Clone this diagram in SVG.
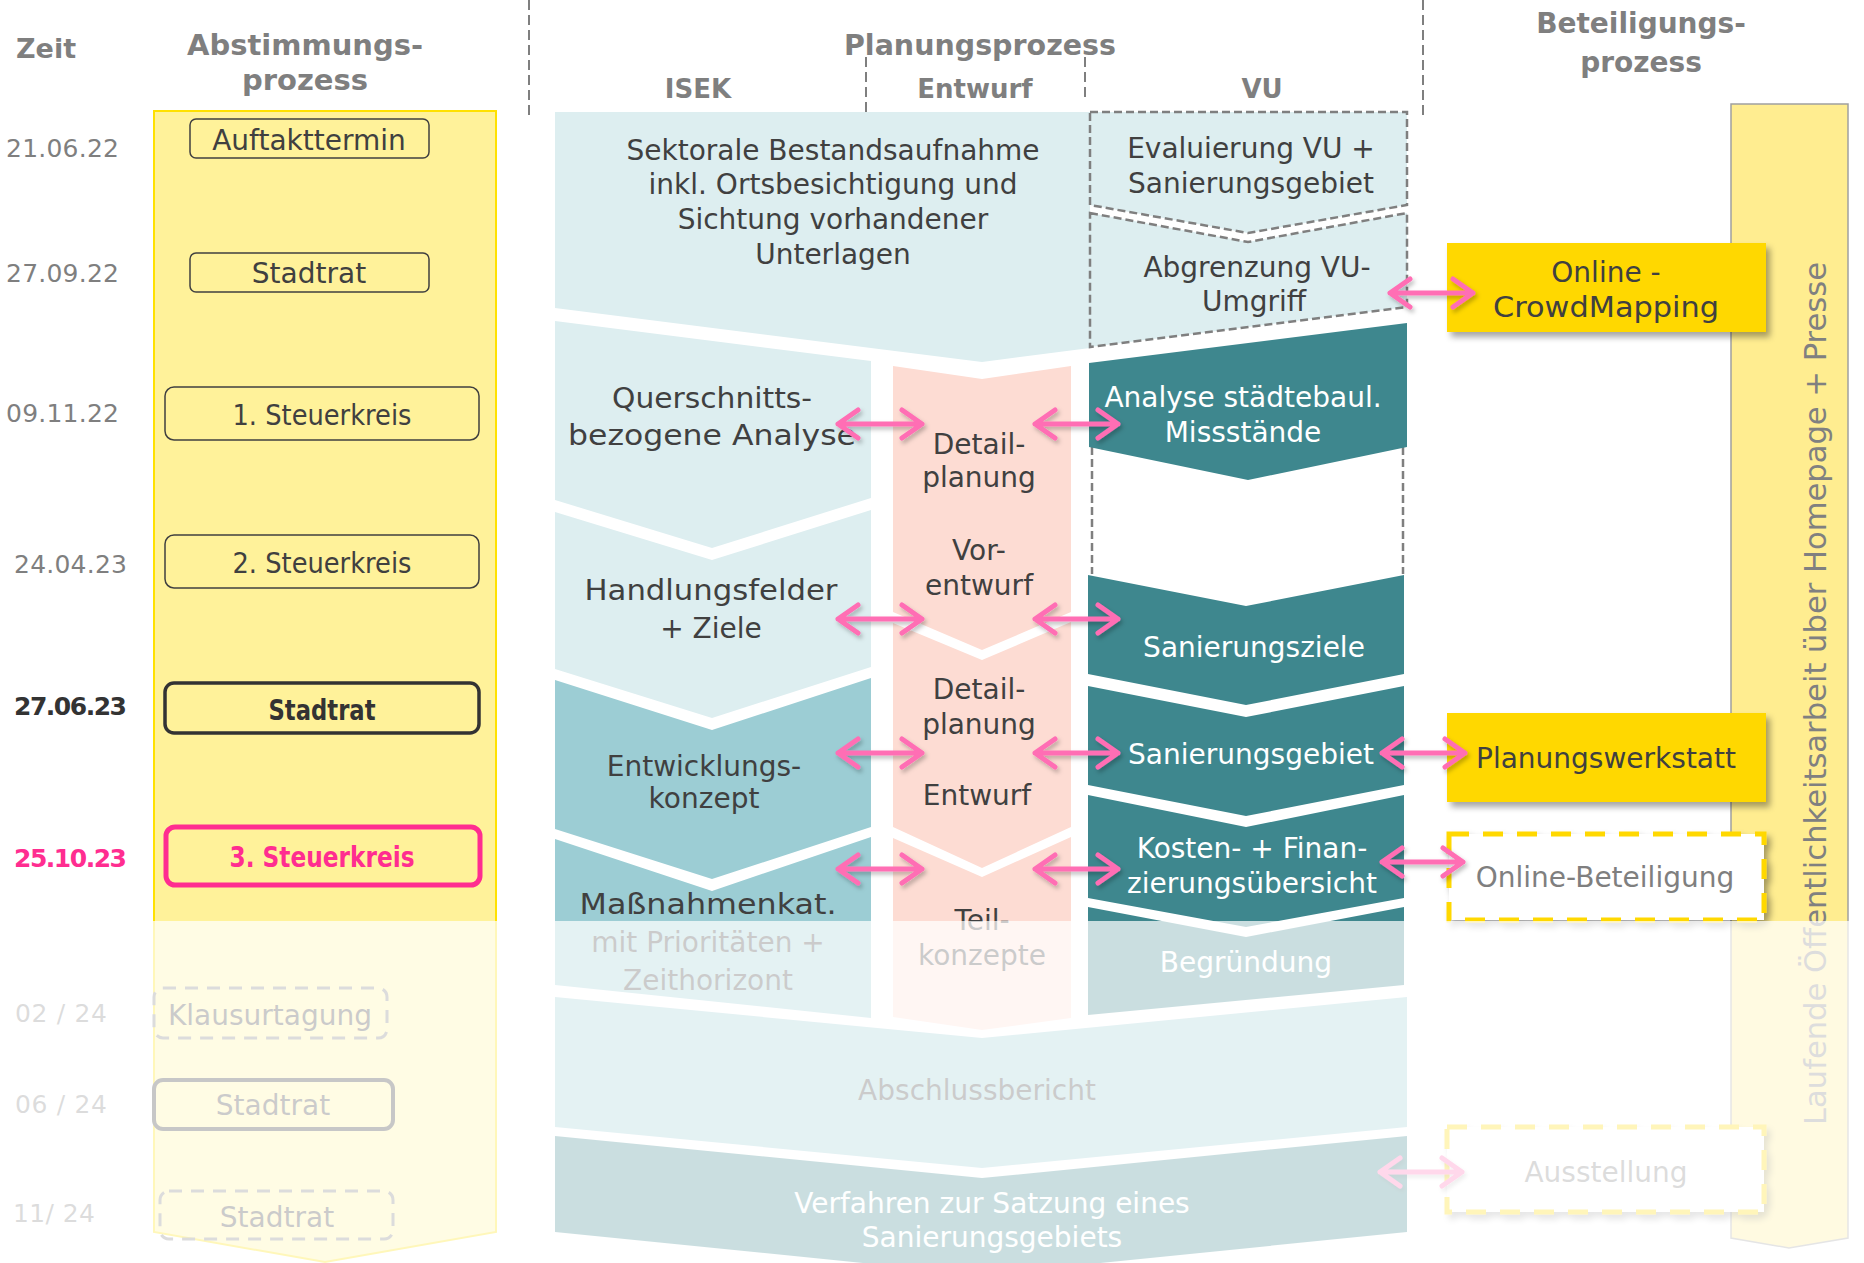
<svg xmlns="http://www.w3.org/2000/svg" width="1864" height="1263" viewBox="0 0 1864 1263">
<defs>
<filter id="sh" x="-10%" y="-10%" width="130%" height="140%"><feDropShadow dx="4" dy="5" stdDeviation="3" flood-color="#000" flood-opacity="0.35"/></filter>
<filter id="ash" x="-10%" y="-50%" width="130%" height="200%"><feDropShadow dx="2" dy="3" stdDeviation="2" flood-color="#000" flood-opacity="0.25"/></filter>
<style>
text{font-family:"DejaVu Sans","Liberation Sans",sans-serif}
.hdr{font-weight:bold;fill:#7f7f7f;text-anchor:middle}
.date{font-size:25px;fill:#7f7f7f}
.lbl{font-size:28px;fill:#404040;text-anchor:middle}
.w{fill:#ffffff}
.box{fill:none;stroke:#404040;stroke-width:1.5}
.lb{fill:#ddeef0}
.mb{fill:#9ccdd4}
.teal{fill:#3e878e}
.pk{fill:#fddcd3}
.vud{stroke:#7f7f7f;stroke-width:2.5;stroke-dasharray:8 4}
.gold{fill:#ffd800}
.arr{fill:none;stroke:#ff6eb4;stroke-width:5;stroke-linecap:round;stroke-linejoin:round}
.hd{stroke:#7f7f7f;stroke-width:2;stroke-dasharray:10 5}
</style>
</defs>
<rect width="1864" height="1263" fill="#ffffff"/>

<g id="headers">
<text class="hdr" x="16" y="58" font-size="27" style="text-anchor:start">Zeit</text>
<text class="hdr" x="305" y="55" font-size="29">Abstimmungs-</text>
<text class="hdr" x="305" y="90" font-size="29">prozess</text>
<text class="hdr" x="980" y="55" font-size="28.5">Planungsprozess</text>
<text class="hdr" x="698" y="98" font-size="26">ISEK</text>
<text class="hdr" x="975" y="98" font-size="26">Entwurf</text>
<text class="hdr" x="1262" y="98" font-size="26">VU</text>
<text class="hdr" x="1641" y="33" font-size="28">Beteiligungs-</text>
<text class="hdr" x="1641" y="72" font-size="28">prozess</text>
<line class="hd" x1="529" y1="0" x2="529" y2="120"/>
<line class="hd" x1="866" y1="57" x2="866" y2="112"/>
<line class="hd" x1="1085" y1="57" x2="1085" y2="100"/>
<line class="hd" x1="1423" y1="0" x2="1423" y2="120"/>
</g>

<g id="abstimmung-column">
<polygon points="154,111 496,111 496,1232 325,1262 154,1232" fill="#fff29a" stroke="#ffe100" stroke-width="2"/>
</g>

<g id="dates">
<text class="date" x="6" y="157" textLength="113">21.06.22</text>
<text class="date" x="6" y="282" textLength="113">27.09.22</text>
<text class="date" x="6" y="422" textLength="113">09.11.22</text>
<text class="date" x="14" y="573" textLength="113">24.04.23</text>
<text class="date" x="14" y="715" textLength="113" style="font-weight:bold;fill:#333333">27.06.23</text>
<text class="date" x="14" y="867" textLength="113" style="font-weight:bold;fill:#ff2d90">25.10.23</text>
<text class="date" x="15" y="1022" textLength="92">02 / 24</text>
<text class="date" x="15" y="1113" textLength="92">06 / 24</text>
<text class="date" x="13" y="1222" textLength="82">11/ 24</text>
</g>

<g id="n-auftakt"><rect class="box" x="190" y="119" width="239" height="39" rx="6"/><text class="lbl" x="309" y="150" font-size="27">Auftakttermin</text></g>
<g id="n-stadtrat1"><rect class="box" x="190" y="253" width="239" height="39" rx="6"/><text class="lbl" x="309" y="283" font-size="27">Stadtrat</text></g>
<g id="n-steuer1"><rect class="box" x="165" y="387" width="314" height="53" rx="9"/><text class="lbl" x="322" y="425" font-size="26" textLength="179" lengthAdjust="spacingAndGlyphs">1. Steuerkreis</text></g>
<g id="n-steuer2"><rect class="box" x="165" y="535" width="314" height="53" rx="9"/><text class="lbl" x="322" y="573" font-size="26" textLength="179" lengthAdjust="spacingAndGlyphs">2. Steuerkreis</text></g>
<g id="n-stadtrat2"><rect x="165" y="683" width="314" height="50" rx="9" fill="none" stroke="#333333" stroke-width="3.5"/><text class="lbl" x="322" y="720" font-size="26" font-weight="bold" style="fill:#333333" textLength="107" lengthAdjust="spacingAndGlyphs">Stadtrat</text></g>
<g id="n-steuer3"><rect x="166" y="827" width="314" height="58" rx="9" fill="none" stroke="#ff2d90" stroke-width="5"/><text class="lbl" x="322" y="867" font-size="26" font-weight="bold" style="fill:#ff2d90" textLength="185" lengthAdjust="spacingAndGlyphs">3. Steuerkreis</text></g>
<g id="n-klausur"><rect x="154" y="988" width="233" height="50" rx="9" fill="none" stroke="#7f7f7f" stroke-width="3" stroke-dasharray="13 9"/><text class="lbl" x="270" y="1025" font-size="27.5">Klausurtagung</text></g>
<g id="n-stadtrat3"><rect x="154" y="1080" width="239" height="49" rx="9" fill="none" stroke="#333333" stroke-width="4"/><text class="lbl" x="273" y="1115" font-size="27">Stadtrat</text></g>
<g id="n-stadtrat4"><rect x="160" y="1191" width="233" height="48" rx="9" fill="none" stroke="#7f7f7f" stroke-width="3" stroke-dasharray="13 9"/><text class="lbl" x="277" y="1227" font-size="27">Stadtrat</text></g>

<g id="n-sektorale">
<polygon class="lb" points="555,112 1090,112 1090,348 982,362 555,308"/>
<text class="lbl" x="833" y="160">Sektorale Bestandsaufnahme</text>
<text class="lbl" x="833" y="194">inkl. Ortsbesichtigung und</text>
<text class="lbl" x="833" y="229">Sichtung vorhandener</text>
<text class="lbl" x="833" y="264">Unterlagen</text>
</g>
<g id="n-evaluierung">
<polygon class="lb vud" points="1090,112 1407,112 1407,205 1248,233 1090,205"/>
<text class="lbl" x="1251" y="158" font-size="27">Evaluierung VU +</text>
<text class="lbl" x="1251" y="193" font-size="27">Sanierungsgebiet</text>
</g>
<g id="n-abgrenzung">
<polygon class="lb vud" points="1090,213 1248,242 1407,213 1407,307 1090,347"/>
<text class="lbl" x="1257" y="277" font-size="27">Abgrenzung VU-</text>
<text class="lbl" x="1254" y="311" font-size="27">Umgriff</text>
</g>
<g id="n-querschnitt">
<polygon class="lb" points="555,321 871,361 871,498 712,548 555,500"/>
<text class="lbl" x="712" y="408" font-size="31" textLength="200" lengthAdjust="spacingAndGlyphs">Querschnitts-</text>
<text class="lbl" x="712" y="445" font-size="31" textLength="288" lengthAdjust="spacingAndGlyphs">bezogene Analyse</text>
</g>
<g id="n-handlungsfelder">
<polygon class="lb" points="555,512 712,560 871,510 871,667 712,718 555,669"/>
<text class="lbl" x="711" y="600" font-size="31" textLength="253" lengthAdjust="spacingAndGlyphs">Handlungsfelder</text>
<text class="lbl" x="711" y="638" font-size="30">+ Ziele</text>
</g>
<g id="n-entwicklungskonzept">
<polygon class="mb" points="555,680 712,730 871,678 871,827 712,879 555,829"/>
<text class="lbl" x="704" y="776" font-size="27">Entwicklungs-</text>
<text class="lbl" x="704" y="808" font-size="27">konzept</text>
</g>
<g id="n-massnahmen">
<polygon class="mb" points="555,839 712,891 871,837 871,1018 555,985"/>
<text class="lbl" x="708" y="914" font-size="31" textLength="257" lengthAdjust="spacingAndGlyphs">Maßnahmenkat.</text>
<text class="lbl" x="708" y="952" font-size="29">mit Prioritäten +</text>
<text class="lbl" x="708" y="990" font-size="29">Zeithorizont</text>
</g>
<g id="n-entwurf1">
<polygon class="pk" points="893,366 982,379 1071,366 1071,612 982,650 893,612"/>
<text class="lbl" x="979" y="454">Detail-</text>
<text class="lbl" x="979" y="487" font-size="29">planung</text>
<text class="lbl" x="979" y="560">Vor-</text>
<text class="lbl" x="979" y="595">entwurf</text>
</g>
<g id="n-entwurf2">
<polygon class="pk" points="893,623 982,660 1071,622 1071,827 982,868 893,827"/>
<text class="lbl" x="979" y="699">Detail-</text>
<text class="lbl" x="979" y="734" font-size="29">planung</text>
<text class="lbl" x="977" y="805">Entwurf</text>
</g>
<g id="n-teilkonzepte">
<polygon class="pk" points="893,838 982,877 1071,837 1071,1018 982,1030 893,1017"/>
<text class="lbl" x="982" y="930">Teil-</text>
<text class="lbl" x="982" y="965">konzepte</text>
</g>
<g id="n-analyse">
<line class="vud" x1="1092" y1="447" x2="1092" y2="574"/>
<line class="vud" x1="1403" y1="447" x2="1403" y2="574"/>
<polygon class="teal" points="1089,363 1407,323 1407,447 1248,480 1089,447"/>
<text class="lbl w" x="1243" y="407">Analyse städtebaul.</text>
<text class="lbl w" x="1243" y="442">Missstände</text>
</g>
<g id="n-sanierungsziele">
<polygon class="teal" points="1088,575 1246,606 1404,575 1404,674 1246,705 1088,674"/>
<text class="lbl w" x="1254" y="657" font-size="27">Sanierungsziele</text>
</g>
<g id="n-sanierungsgebiet">
<polygon class="teal" points="1088,686 1246,717 1404,686 1404,785 1246,816 1088,785"/>
<text class="lbl w" x="1251" y="764">Sanierungsgebiet</text>
</g>
<g id="n-kosten">
<polygon class="teal" points="1088,795 1246,827 1404,795 1404,898 1246,927 1088,898"/>
<text class="lbl w" x="1252" y="858" font-size="27">Kosten- + Finan-</text>
<text class="lbl w" x="1252" y="893" font-size="27">zierungsübersicht</text>
</g>
<g id="n-begruendung">
<polygon class="teal" points="1088,907 1246,937 1404,907 1404,985 1088,1015"/>
<text class="lbl w" x="1246" y="972">Begründung</text>
</g>
<g id="n-abschluss">
<polygon class="mb" points="555,997 982,1038 1407,997 1407,1127 982,1168 555,1127"/>
<text class="lbl" x="977" y="1100">Abschlussbericht</text>
</g>
<g id="n-verfahren">
<polygon class="teal" points="555,1136 982,1178 1407,1136 1407,1232 982,1275 555,1232"/>
<text class="lbl w" x="992" y="1213">Verfahren zur Satzung eines</text>
<text class="lbl w" x="992" y="1247">Sanierungsgebiets</text>
</g>

<g id="n-oeffentlichkeit">
<polygon points="1731,104 1848,104 1848,1238 1789,1248 1731,1238" fill="#ffed90" stroke="#a0a0a0" stroke-width="1.5"/>
<text transform="translate(1826,1125) rotate(-90)" x="0" y="0" font-size="30" fill="#808080" textLength="863" lengthAdjust="spacingAndGlyphs">Laufende Öffentlichkeitsarbeit über Homepage + Presse</text>
</g>
<g id="n-crowdmapping">
<rect class="gold" x="1447" y="243" width="319" height="89" filter="url(#sh)"/>
<text class="lbl" x="1606" y="282" font-size="29">Online -</text>
<text class="lbl" x="1606" y="317" font-size="29" textLength="226" lengthAdjust="spacingAndGlyphs">CrowdMapping</text>
</g>
<g id="n-planungswerkstatt">
<rect class="gold" x="1447" y="713" width="319" height="89" filter="url(#sh)"/>
<text class="lbl" x="1606" y="768" font-size="27.5">Planungswerkstatt</text>
</g>
<g id="n-onlinebeteiligung">
<rect x="1449" y="834" width="315" height="86" fill="#ffffff" stroke="#ffd800" stroke-width="5" stroke-dasharray="20 14" filter="url(#sh)"/>
<text class="lbl" x="1605" y="887" style="fill:#7f7f7f">Online-Beteiligung</text>
</g>
<g id="n-ausstellung">
<rect x="1447" y="1127" width="317" height="85" fill="#ffffff" stroke="#ffd800" stroke-width="5" stroke-dasharray="20 14" filter="url(#sh)"/>
<text class="lbl" x="1606" y="1182" style="fill:#7f7f7f">Ausstellung</text>
</g>

<g id="connectors" filter="url(#ash)">
<path class="arr" d="M858,410 L838,424 L858,438 M838,424 L922,424 M902,410 L922,424 L902,438"/>
<path class="arr" d="M1055,410 L1035,424 L1055,438 M1035,424 L1118,424 M1098,410 L1118,424 L1098,438"/>
<path class="arr" d="M858,605 L838,619 L858,633 M838,619 L922,619 M902,605 L922,619 L902,633"/>
<path class="arr" d="M1055,605 L1035,619 L1055,633 M1035,619 L1118,619 M1098,605 L1118,619 L1098,633"/>
<path class="arr" d="M858,739 L838,753 L858,767 M838,753 L922,753 M902,739 L922,753 L902,767"/>
<path class="arr" d="M1055,739 L1035,753 L1055,767 M1035,753 L1118,753 M1098,739 L1118,753 L1098,767"/>
<path class="arr" d="M858,855 L838,869 L858,883 M838,869 L922,869 M902,855 L922,869 L902,883"/>
<path class="arr" d="M1055,855 L1035,869 L1055,883 M1035,869 L1118,869 M1098,855 L1118,869 L1098,883"/>
<path class="arr" d="M1410,279 L1390,293 L1410,307 M1390,293 L1473,293 M1453,279 L1473,293 L1453,307"/>
<path class="arr" d="M1402,739 L1382,753 L1402,767 M1382,753 L1465,753 M1445,739 L1465,753 L1445,767"/>
<path class="arr" d="M1402,848 L1382,862 L1402,876 M1382,862 L1463,862 M1443,848 L1463,862 L1443,876"/>
<path class="arr" d="M1400,1158 L1380,1172 L1400,1186 M1380,1172 L1462,1172 M1442,1158 L1462,1172 L1442,1186"/>
</g>

<rect id="future-overlay" x="0" y="921" width="1864" height="342" fill="#ffffff" fill-opacity="0.73"/>
<line id="today-line" x1="16" y1="916" x2="1864" y2="916" stroke="#ff2d90" stroke-width="5" stroke-dasharray="21 16" filter="url(#ash)"/>
</svg>
